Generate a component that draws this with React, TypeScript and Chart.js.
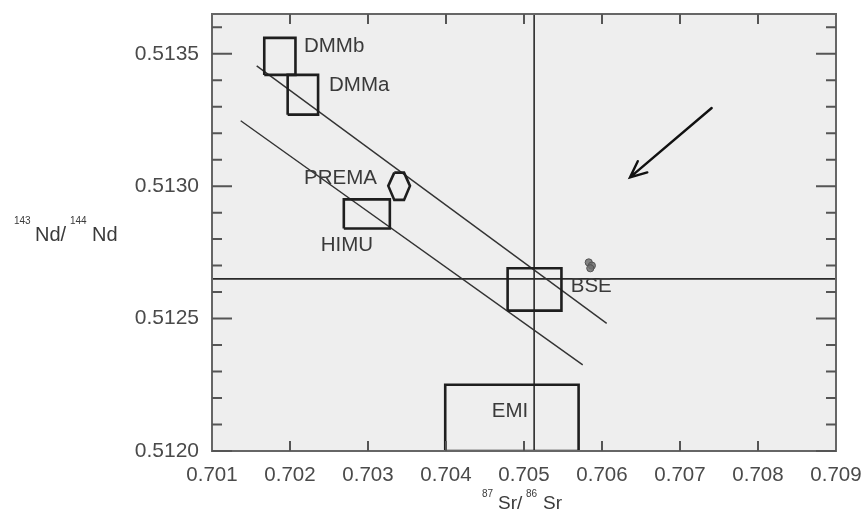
import React, { useEffect, useRef } from "react";
import { Chart, registerables } from "chart.js";

Chart.register(...registerables);

// ---- axes ----
const xRange = [0.701, 0.709];
const yRange = [0.512, 0.51365];
const xTicks = [0.701, 0.702, 0.703, 0.704, 0.705, 0.706, 0.707, 0.708, 0.709];
const xTickLabels = ["0.701", "0.702", "0.703", "0.704", "0.705", "0.706", "0.707", "0.708", "0.709"];
const yTicks = [0.512, 0.5125, 0.513, 0.5135];
const yTickLabels = ["0.5120", "0.5125", "0.5130", "0.5135"];
const yMinorTicks = [0.5121, 0.5122, 0.5123, 0.5124, 0.5126, 0.5127, 0.5128, 0.5129, 0.5131, 0.5132, 0.5133, 0.5134, 0.5136];

// ---- reservoir boxes: [SrMin, SrMax, NdMin, NdMax] ----
const dmmbBox = [0.70167, 0.70207, 0.51342, 0.51356];
const dmmaBox = [0.70197, 0.70236, 0.51327, 0.51342];
const himuBox = [0.70269, 0.70328, 0.51284, 0.51295];
const bseBox = [0.70479, 0.70548, 0.51253, 0.51269];
const emiBox = [0.70399, 0.7057, 0.512, 0.51225];

// PREMA hexagon
const premaSr = [0.703337, 0.703462, 0.703538, 0.703462, 0.703337, 0.70326, 0.703337];
const premaNd = [0.513051, 0.513051, 0.513001, 0.512948, 0.512948, 0.513001, 0.513051];

// mantle array lines
const upperSr = [0.701573, 0.70606];
const upperNd = [0.513454, 0.512482];
const lowerSr = [0.701368, 0.705753];
const lowerNd = [0.513247, 0.512325];

// bulk silicate earth reference lines
const bseSr = 0.70513;
const bseNd = 0.51265;

// samples
const sampleSr = [0.70583, 0.70587, 0.70585];
const sampleNd = [0.512712, 0.5127, 0.51269];

// arrow
const arrowFrom = [0.707406, 0.513295];
const arrowTo = [0.706359, 0.513033];

// labels
const labelNames = ["DMMb", "DMMa", "PREMA", "HIMU", "BSE", "EMI"];
const labelSr = [0.702179, 0.7025, 0.70218, 0.702394, 0.705599, 0.704586];
const labelNd = [0.513531, 0.513383, 0.513032, 0.51278, 0.512626, 0.512152];

const FONT = "'Liberation Sans', Arial, sans-serif";

function boxPoints(b: number[]) {
  return [
    { x: b[0], y: b[2] },
    { x: b[1], y: b[2] },
    { x: b[1], y: b[3] },
    { x: b[0], y: b[3] },
    { x: b[0], y: b[2] },
  ];
}

function zipPoints(xs: number[], ys: number[]) {
  return xs.map((x, i) => ({ x, y: ys[i] }));
}

const boxStyle = {
  showLine: true,
  borderColor: "#1e1e1e",
  borderWidth: 2.6,
  pointRadius: 0,
  tension: 0,
  fill: false,
};

const thinStyle = {
  showLine: true,
  borderColor: "#333333",
  borderWidth: 1.4,
  pointRadius: 0,
  tension: 0,
  fill: false,
};

const decorPlugin = {
  id: "decor",
  beforeDraw(chart: any) {
    const { ctx, chartArea: a } = chart;
    ctx.save();
    ctx.fillStyle = "#eeeeee";
    ctx.fillRect(a.left, a.top, a.right - a.left, a.bottom - a.top);
    ctx.restore();
  },
  afterDatasetsDraw(chart: any) {
    const { ctx, chartArea: a, scales } = chart;
    const xs = scales.x;
    const ys = scales.y;
    ctx.save();

    // frame
    ctx.strokeStyle = "#666666";
    ctx.lineWidth = 2;
    ctx.strokeRect(a.left, a.top, a.right - a.left, a.bottom - a.top);

    // ticks
    ctx.strokeStyle = "#555555";
    ctx.lineWidth = 2;
    ctx.beginPath();
    yTicks.forEach((v) => {
      const p = ys.getPixelForValue(v);
      ctx.moveTo(a.left, p);
      ctx.lineTo(a.left + 20, p);
      ctx.moveTo(a.right, p);
      ctx.lineTo(a.right - 20, p);
    });
    yMinorTicks.forEach((v) => {
      const p = ys.getPixelForValue(v);
      ctx.moveTo(a.left, p);
      ctx.lineTo(a.left + 10, p);
      ctx.moveTo(a.right, p);
      ctx.lineTo(a.right - 10, p);
    });
    xTicks.slice(1, -1).forEach((v) => {
      const p = xs.getPixelForValue(v);
      ctx.moveTo(p, a.bottom);
      ctx.lineTo(p, a.bottom - 10);
      ctx.moveTo(p, a.top);
      ctx.lineTo(p, a.top + 10);
    });
    ctx.stroke();

    // arrow
    const x1 = xs.getPixelForValue(arrowFrom[0]);
    const y1 = ys.getPixelForValue(arrowFrom[1]);
    const x2 = xs.getPixelForValue(arrowTo[0]);
    const y2 = ys.getPixelForValue(arrowTo[1]);
    const ang = Math.atan2(y2 - y1, x2 - x1);
    const hl = 18;
    const ha = 0.42;
    ctx.strokeStyle = "#111111";
    ctx.lineWidth = 2.4;
    ctx.lineCap = "round";
    ctx.beginPath();
    ctx.moveTo(x1, y1);
    ctx.lineTo(x2, y2);
    ctx.moveTo(x2 - hl * Math.cos(ang - ha), y2 - hl * Math.sin(ang - ha));
    ctx.lineTo(x2, y2);
    ctx.lineTo(x2 - hl * Math.cos(ang + ha), y2 - hl * Math.sin(ang + ha));
    ctx.stroke();

    // labels
    ctx.fillStyle = "#3a3a3a";
    ctx.font = `20.5px ${FONT}`;
    ctx.textAlign = "left";
    ctx.textBaseline = "middle";
    labelNames.forEach((n, i) => {
      ctx.fillText(n, xs.getPixelForValue(labelSr[i]), ys.getPixelForValue(labelNd[i]) + 1);
    });

    // axis titles
    ctx.fillStyle = "#3a3a3a";
    ctx.textBaseline = "alphabetic";
    ctx.font = `10px ${FONT}`;
    ctx.fillText("143", 14, 224);
    ctx.font = `20px ${FONT}`;
    ctx.fillText("Nd/", 35, 241);
    ctx.font = `10px ${FONT}`;
    ctx.fillText("144", 70, 224);
    ctx.font = `20px ${FONT}`;
    ctx.fillText("Nd", 92, 241);

    ctx.font = `10px ${FONT}`;
    ctx.fillText("87", 482, 497);
    ctx.font = `19px ${FONT}`;
    ctx.fillText("Sr/", 498, 509);
    ctx.font = `10px ${FONT}`;
    ctx.fillText("86", 526, 497);
    ctx.font = `19px ${FONT}`;
    ctx.fillText("Sr", 543, 509);

    ctx.restore();
  },
};

export default function App() {
  const ref = useRef<HTMLCanvasElement | null>(null);

  useEffect(() => {
    if (!ref.current) return;
    const chart = new Chart(ref.current, {
      type: "scatter",
      data: {
        datasets: [
          { data: zipPoints(sampleSr, sampleNd), showLine: false, pointRadius: 3.6, pointBackgroundColor: "rgba(110,110,110,0.85)", pointBorderColor: "#555555", pointBorderWidth: 1 } as any,
          { data: boxPoints(dmmbBox), ...boxStyle },
          { data: boxPoints(dmmaBox), ...boxStyle },
          { data: boxPoints(himuBox), ...boxStyle },
          { data: boxPoints(bseBox), ...boxStyle },
          { data: boxPoints(emiBox), ...boxStyle },
          { data: zipPoints(premaSr, premaNd), ...boxStyle },
          { data: zipPoints(upperSr, upperNd), ...thinStyle },
          { data: zipPoints(lowerSr, lowerNd), ...thinStyle },
          { data: [{ x: xRange[0], y: bseNd }, { x: xRange[1], y: bseNd }], ...thinStyle, borderColor: "#2a2a2a", borderWidth: 1.6 },
          { data: [{ x: bseSr, y: yRange[0] }, { x: bseSr, y: yRange[1] }], ...thinStyle, borderColor: "#2a2a2a", borderWidth: 1.6 },
        ],
      },
      options: {
        responsive: false,
        animation: false,
        layout: { padding: { left: 0, top: 14, right: 26, bottom: 0 } },
        plugins: { legend: { display: false }, tooltip: { enabled: false } },
        scales: {
          x: {
            type: "linear",
            min: xRange[0],
            max: xRange[1],
            grid: { display: false, drawTicks: false },
            border: { display: false },
            ticks: {
              font: { family: FONT, size: 20.5 },
              color: "#4a4a4a",
              padding: 12,
              maxRotation: 0,
              autoSkip: false,
              callback: (_v: any, i: number) => xTickLabels[i],
            },
            afterBuildTicks: (s: any) => {
              s.ticks = xTicks.map((v) => ({ value: v }));
            },
            afterFit: (s: any) => {
              s.height = 62;
              s.paddingLeft = 0;
              s.paddingRight = 0;
            },
          },
          y: {
            type: "linear",
            min: yRange[0],
            max: yRange[1],
            grid: { display: false, drawTicks: false },
            border: { display: false },
            ticks: {
              font: { family: FONT, size: 21 },
              color: "#4a4a4a",
              padding: 13,
              autoSkip: false,
              callback: (_v: any, i: number) => yTickLabels[i],
            },
            afterBuildTicks: (s: any) => {
              s.ticks = yTicks.map((v) => ({ value: v }));
            },
            afterFit: (s: any) => {
              s.width = 212;
              s.paddingTop = 0;
              s.paddingBottom = 0;
            },
          },
        },
      },
      plugins: [decorPlugin],
    } as any);
    return () => chart.destroy();
  }, []);

  return (
    <div style={{ position: "absolute", left: 0, top: 0, width: 862, height: 513, background: "#ffffff" }}>
      <canvas ref={ref} width={862} height={513} style={{ display: "block" }} />
    </div>
  );
}
